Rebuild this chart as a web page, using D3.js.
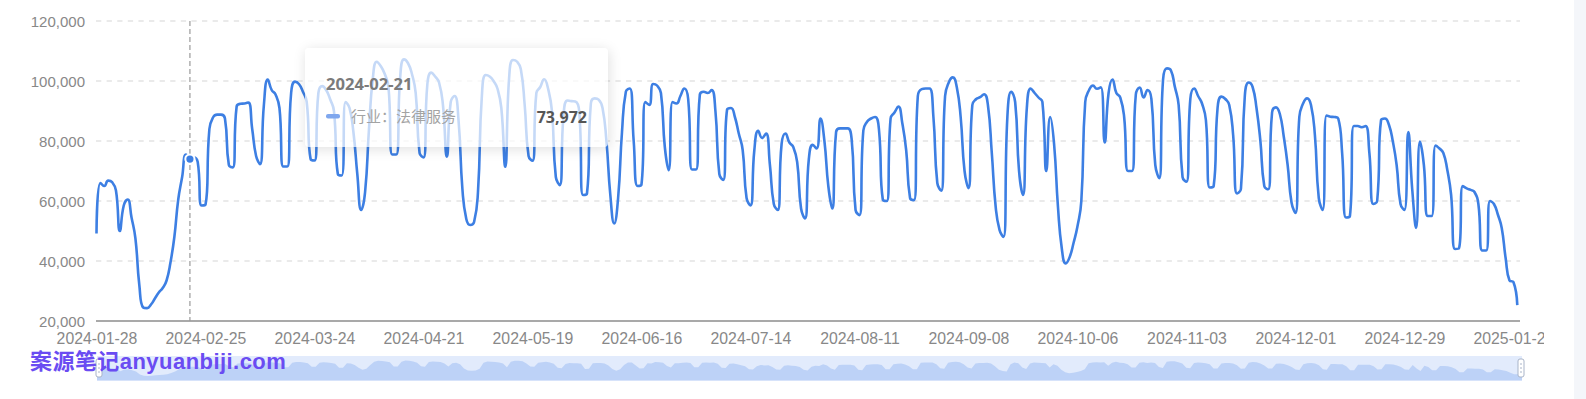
<!DOCTYPE html>
<html>
<head>
<meta charset="utf-8">
<script src="https://cdn.jsdelivr.net/npm/d3@7/dist/d3.min.js"></script>
<style>
  html, body { margin:0; padding:0; background:#fff; }
  body { width:1586px; height:399px; position:relative; overflow:hidden; }
  svg { position:absolute; left:0; top:0; }
  #tip { position:absolute; box-sizing:border-box; background:rgba(255,255,255,0.7);
         border-radius:4px; box-shadow:1px 2px 13px rgba(0,0,0,0.13); }
  #wm { position:absolute; left:30px; top:350px; height:18px; line-height:18px; white-space:nowrap;
        font-family:'Liberation Sans','Noto Sans CJK SC',sans-serif; font-weight:700; font-size:22px;
        letter-spacing:0.45px; color:#6a4cf2; overflow:visible; }
</style>
</head>
<body>
<svg id="chart" width="1586" height="399"></svg>
<div id="wm"></div>
<div id="tip"></div>
<svg id="overlay" width="1586" height="399" style="pointer-events:none"></svg>
<script>
// ---------------- data ----------------
const startDate = "2024-01-28";
const dayCount = 366;
const seriesName = "行业：法律服务";
const yTicks = [20000, 40000, 60000, 80000, 100000, 120000];
const xLabelStep = 28;
const tooltipIndex = 24;
const watermark = "案源笔记anyuanbiji.com";

const values = [
  49200,
  66000, 65000, 66800, 66300, 63500, 50000, 58500,
  60500, 54500, 47500, 32000, 24500, 24300, 25500,
  27500, 29500, 31000, 33500, 39500, 48000, 60500,
  68000, 75500, 73972, 74500, 73000, 58500, 58800,
  84000, 88000, 88800, 88800, 87500, 72000, 71200,
  91500, 92400, 92500, 92800, 84000, 75000, 72300,
  92000, 100500, 97000, 95500, 91000, 71500, 71500,
  96000, 99800, 99000, 96500, 93000, 74000, 73500,
  96000, 98300, 97000, 94000, 90000, 69000, 68500,
  93000, 91000, 83000, 69000, 57000, 63000, 84000,
  101000, 106400, 105000, 102500, 98000, 75500, 75500,
  101000, 107200, 106000, 102500, 96000, 76000, 74500,
  99000, 102800, 101500, 99500, 92000, 74800, 93000,
  95000, 87000, 64000, 54000, 52000, 53000, 63000,
  95000, 102000, 101500, 100000, 97500, 91000, 71400,
  101000, 107000, 106500, 104000, 92000, 75000, 73400,
  96000, 98000, 100600, 97500, 90000, 68000, 65300,
  89000, 93500, 93300, 93200, 90000, 62000, 62500,
  92500, 94200, 93800, 91000, 80000, 62000, 52500,
  61000, 83000, 96500, 97500, 80000, 65000, 65500,
  93000, 92000, 99000, 98500, 96000, 78000, 70300,
  93000, 92500, 95000, 97500, 94000, 70500, 70500,
  95500, 96400, 96000, 97000, 90000, 69000, 67000,
  90500, 91000, 88000, 82500, 77000, 61000, 58500,
  77000, 83400, 81000, 82500, 72000, 59000, 57000,
  79000, 82500, 79500, 78000, 73000, 57500, 54200,
  74000, 78700, 77500, 87500, 80000, 65000, 57500,
  83000, 84200, 84200, 84200, 80500, 57000, 55300,
  83500, 86500, 87500, 88000, 84000, 60500, 60000,
  87500, 89500, 91500, 86000, 77000, 61000, 60300,
  95000, 97300, 97500, 97500, 88000, 66000, 63400,
  95000, 99700, 101200, 98000, 88000, 70000, 64300,
  92000, 94000, 94600, 95600, 92000, 76000, 58000,
  50300, 48000, 88000, 96400, 93000, 70000, 62000,
  91000, 97500, 96000, 94500, 93000, 70000, 88000,
  79000, 58000, 44000, 39200, 41300, 46000, 51500,
  60000, 93000, 97000, 98500, 97400, 97900, 79500,
  96000, 100500, 96000, 94500, 88000, 70000, 70000,
  95500, 97800, 94500, 97000, 94000, 72000, 67600,
  100500, 104200, 103600, 98200, 92000, 68000, 66400,
  94000, 97500, 95000, 92500, 87000, 64500, 65000,
  91000, 94800, 94000, 92000, 82000, 62500, 64000,
  95000, 99500, 98000, 91000, 80000, 65000, 63900,
  89500, 91200, 89000, 81500, 72000, 59500, 56000,
  88000, 92600, 94200, 92000, 82000, 61000, 57000,
  88500, 88100, 88000, 87500, 76000, 54500, 55000,
  85000, 85000, 84600, 85000, 76000, 59000, 60000,
  87000, 87500, 85500, 80000, 72000, 59000, 57000,
  83000, 64000, 51000, 79800, 72000, 55000, 55000,
  78500, 77500, 76000, 70500, 62000, 44000, 44200,
  65000, 64200, 63700, 63000, 59000, 43500, 43500,
  60000, 59000, 55500, 51000, 41000, 33500, 33000,
  25300
];

// categories (one per day)
const fmt = d3.utcFormat("%Y-%m-%d");
const start = d3.utcParse("%Y-%m-%d")(startDate);
const categories = d3.range(dayCount).map(i => fmt(d3.utcDay.offset(start, i)));
const xTickLabels = categories.filter((d, i) => i % xLabelStep === 0);

// ---------------- style ----------------
const lineColor = "#3d7fe3";
const labelColor = "#888888";
const axisFont = "'Liberation Sans', Arial, sans-serif";
const latin = "'Noto Sans', 'Liberation Sans', Arial, sans-serif";
const cjk = "'Noto Sans CJK SC', 'Noto Sans', sans-serif";

// ECharts-like smoothing curve (smooth = 0.5 with neighbour clamping)
function curveECharts(context) { return new ECurve(context, 0.5); }
function ECurve(ctx, s) { this._c = ctx; this._s = s; }
ECurve.prototype = {
  areaStart() {}, areaEnd() {},
  lineStart() { this._x = []; this._y = []; },
  point(x, y) { this._x.push(+x); this._y.push(+y); },
  lineEnd() {
    const X = this._x, Y = this._y, n = X.length, s = this._s, c = this._c;
    if (!n) return;
    c.moveTo(X[0], Y[0]);
    let cpx0 = X[0], cpy0 = Y[0];
    for (let i = 1; i < n; i++) {
      const x = X[i], y = Y[i], px = X[i - 1], py = Y[i - 1];
      let cpx1 = x, cpy1 = y, ncx = x, ncy = y;
      if (i < n - 1) {
        const nx = X[i + 1], ny = Y[i + 1];
        let vx = nx - px, vy = ny - py;
        const lp = Math.hypot(x - px, y - py), ln = Math.hypot(nx - x, ny - y);
        const r = ln / (ln + lp);
        ncx = x + vx * s * r; ncy = y + vy * s * r;
        ncx = Math.max(Math.min(ncx, Math.max(nx, x)), Math.min(nx, x));
        ncy = Math.max(Math.min(ncy, Math.max(ny, y)), Math.min(ny, y));
        vx = ncx - x; vy = ncy - y;
        cpx1 = x - vx * lp / ln; cpy1 = y - vy * lp / ln;
        cpx1 = Math.max(Math.min(cpx1, Math.max(px, x)), Math.min(px, x));
        cpy1 = Math.max(Math.min(cpy1, Math.max(py, y)), Math.min(py, y));
        vx = x - cpx1; vy = y - cpy1;
        ncx = x + vx * ln / lp; ncy = y + vy * ln / lp;
      }
      c.bezierCurveTo(cpx0, cpy0, cpx1, cpy1, x, y);
      cpx0 = ncx; cpy0 = ncy;
    }
  }
};

// ---------------- scales ----------------
const x = d3.scalePoint().domain(categories).range([96.5, 1517.3]);
const y = d3.scaleLinear().domain([20000, 120000]).range([321, 21]);

const svg = d3.select("#chart");

// right grey band
svg.append("rect").attr("x", 1574).attr("y", 0).attr("width", 12).attr("height", 399).attr("fill", "#f4f6fa");

// grid lines
svg.append("g").selectAll("line").data(yTicks.filter(t => t > 20000)).join("line")
  .attr("x1", 96).attr("x2", 1520).attr("y1", d => y(d)).attr("y2", d => y(d))
  .attr("stroke", "#d6d6d6").attr("stroke-width", 1.2).attr("stroke-dasharray", "5.3,5.3");

// y axis
const yAxis = svg.append("g").attr("transform", "translate(96,0)")
  .call(d3.axisLeft(y).tickValues(yTicks).tickFormat(d3.format(",")).tickSize(0).tickPadding(11));
yAxis.select(".domain").remove();
yAxis.selectAll("text").attr("fill", labelColor).attr("dy", null).attr("y", 5)
  .style("font-family", axisFont).style("font-size", "15px");

// x axis line
svg.append("line").attr("x1", 96).attr("x2", 1520).attr("y1", 321).attr("y2", 321)
  .attr("stroke", "#8c8c8c").attr("stroke-width", 1.3);

// x labels (clipped at right like the reference)
svg.append("clipPath").attr("id", "xclip").append("rect").attr("x", 0).attr("y", 0).attr("width", 1544).attr("height", 399);
const xAxis = svg.append("g").attr("transform", "translate(0,321)").attr("clip-path", "url(#xclip)")
  .call(d3.axisBottom(x).tickValues(xTickLabels).tickSize(0));
xAxis.select(".domain").remove();
xAxis.selectAll("text").attr("fill", labelColor).attr("dy", null).attr("y", 22.6)
  .style("font-family", axisFont).style("font-size", "15.8px");

// crosshair
const tipX = x(categories[tooltipIndex]);
svg.append("line").attr("x1", tipX).attr("x2", tipX).attr("y1", 21).attr("y2", 321)
  .attr("stroke", "#9a9a9a").attr("stroke-width", 1.2).attr("stroke-dasharray", "5,3");

// series line
const line = d3.line().x((d, i) => x(categories[i])).y(d => y(d)).curve(curveECharts);
svg.append("path").datum(values).attr("d", line).attr("fill", "none")
  .attr("stroke", lineColor).attr("stroke-width", 2.6).attr("stroke-linejoin", "round");

// hovered point
svg.append("circle").attr("cx", tipX).attr("cy", y(values[tooltipIndex])).attr("r", 4.6)
  .attr("fill", lineColor).attr("stroke", "#fff").attr("stroke-width", 2);

// ---------------- data zoom slider ----------------
const dzX0 = 97, dzX1 = 1522, dzY0 = 356, dzY1 = 380.5;
svg.append("rect").attr("x", dzX0).attr("y", dzY0).attr("width", dzX1 - dzX0).attr("height", dzY1 - dzY0)
  .attr("fill", "#e2ebfc");
const ext = d3.extent(values), off = (ext[1] - ext[0]) * 0.3;
const dzx = d3.scaleLinear().domain([0, dayCount - 1]).range([dzX0, dzX1]);
const dzy = d3.scaleLinear().domain([ext[0] - off, ext[1] + off]).range([dzY1, dzY0]);
const area = d3.area().x((d, i) => dzx(i)).y0(dzY1).y1(d => dzy(d));
svg.append("path").datum(values).attr("d", area).attr("fill", "#bdd2f7");
[99, 1521].forEach(hx => {
  svg.append("rect").attr("x", hx - 3).attr("y", 359).attr("width", 6).attr("height", 18).attr("rx", 2)
    .attr("fill", "#fff").attr("stroke", "#a9b4c8").attr("stroke-width", 1);
  [364, 368, 372].forEach(gy => svg.append("line").attr("x1", hx - 1).attr("x2", hx + 1)
    .attr("y1", gy).attr("y2", gy).attr("stroke", "#a9b4c8").attr("stroke-width", 1));
});

// watermark (HTML text, baseline placed at y = 369)
const wm = d3.select("#wm");
wm.text(watermark);
const probe = wm.append("span").style("display", "inline-block").style("width", "0px")
  .style("height", "0px").style("vertical-align", "baseline");
const baseNow = probe.node().getBoundingClientRect().top;
probe.remove();
wm.style("top", (350 + (369 - baseNow)) + "px");

// ---------------- tooltip ----------------
d3.select("#tip").style("left", "305px").style("top", "48px").style("width", "303px").style("height", "99px");
const ov = d3.select("#overlay");
ov.append("text").attr("x", 326).attr("y", 90).text(categories[tooltipIndex])
  .attr("fill", "#7b7b7b").style("font-family", latin).style("font-weight", 700).style("font-size", "16.6px");
ov.append("rect").attr("x", 326).attr("y", 114).attr("width", 14).attr("height", 4.6).attr("rx", 2)
  .attr("fill", "#7fa7ee");
ov.append("text").attr("x", 351).attr("y", 121.5).text(seriesName)
  .attr("fill", "#a3a3a3").style("font-family", cjk).style("font-size", "15px");
ov.append("text").attr("x", 587).attr("y", 122.5).attr("text-anchor", "end")
  .text(d3.format(",")(values[tooltipIndex]))
  .attr("fill", "#565656").style("font-family", latin).style("font-weight", 700).style("font-size", "16px");
</script>
</body>
</html>
